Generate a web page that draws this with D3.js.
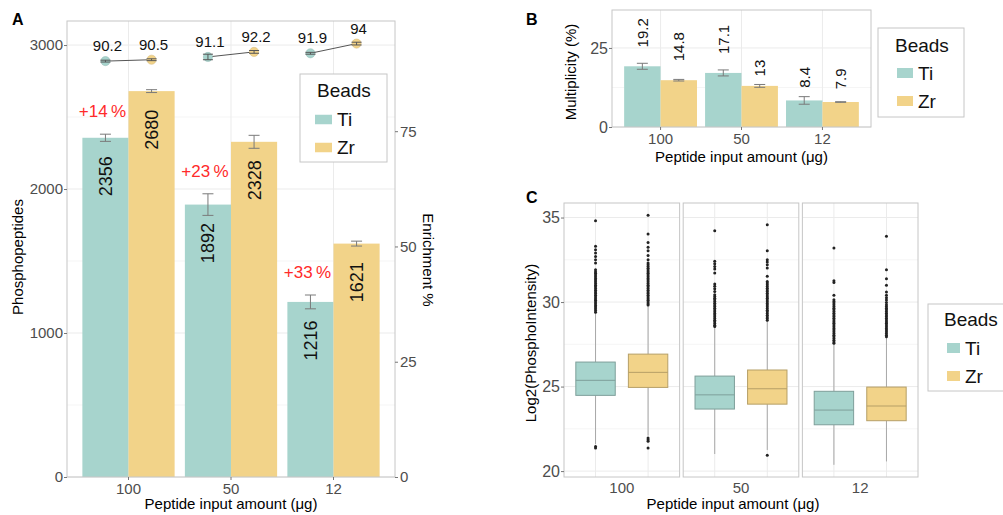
<!DOCTYPE html>
<html>
<head>
<meta charset="utf-8">
<script src="https://cdn.jsdelivr.net/npm/d3@7"></script>
<style>
  body { margin: 0; background: #fff; }
  svg { font-family: "Liberation Sans", Arial, sans-serif; }
</style>
</head>
<body>
<svg id="fig" width="1003" height="515"></svg>
<script>
// ---- data ----
var amounts = ["100", "50", "12"];
var beads = ["Ti", "Zr"];
var beadColors = ["#a7d4cd", "#f2d389"];

// A: phosphopeptides (bars) and enrichment % (points)
var phosphoTi = [2356, 1892, 1216];
var phosphoZr = [2680, 2328, 1621];
var phosphoTiSd = [25, 75, 48];
var phosphoZrSd = [10, 45, 17];
var enrichTi = [90.2, 91.1, 91.9];
var enrichZr = [90.5, 92.2, 94];
var enrichTiSd = [0.2, 0.6, 0.2];
var enrichZrSd = [0.2, 0.3, 0.3];
var gainLabels = ["+14\u2009%", "+23\u2009%", "+33\u2009%"];
var phosphoTicks = [0, 1000, 2000, 3000];
var enrichTicks = [0, 25, 50, 75];

// B: multiplicity
var multTi = [19.2, 17.1, 8.4];
var multZr = [14.8, 13, 7.9];
var multTiSd = [0.95, 0.95, 1.2];
var multZrSd = [0.25, 0.45, 0.1];
var multTicks = [0, 25];

// C: log2 phospho intensity boxplots
var boxTiQ1 = [24.48, 23.67, 22.74];
var boxTiMed = [25.37, 24.51, 23.61];
var boxTiQ3 = [26.45, 25.62, 24.72];
var boxTiLo = [21.6, 21.01, 20.37];
var boxTiHi = [29.35, 28.5, 27.52];
var boxZrQ1 = [24.95, 23.96, 22.98];
var boxZrMed = [25.84, 24.87, 23.85];
var boxZrQ3 = [26.92, 25.98, 24.97];
var boxZrLo = [22.1, 21.25, 20.57];
var boxZrHi = [29.78, 28.88, 27.9];
var outTi100 = [34.81, 33.30, 33.10, 32.90, 32.70, 32.50, 32.31, 31.91, 31.80, 31.70, 31.60, 31.50, 31.40, 31.30, 31.20, 31.10, 31.00, 30.90, 30.80, 30.70, 30.60, 30.50, 30.40, 30.30, 30.20, 30.10, 30.00, 29.90, 29.80, 29.70, 29.60, 29.50, 29.40, 21.46, 21.36];
var outZr100 = [35.13, 34.02, 33.53, 33.24, 33.04, 32.76, 32.50, 32.31, 32.20, 32.10, 32.00, 31.90, 31.80, 31.70, 31.60, 31.50, 31.40, 31.30, 31.20, 31.10, 31.00, 30.90, 30.80, 30.70, 30.60, 30.50, 30.40, 30.30, 30.20, 30.10, 30.00, 29.90, 29.82, 21.95, 21.85, 21.76, 21.36];
var outTi50 = [34.22, 32.41, 32.27, 32.11, 31.95, 31.72, 31.07, 30.93, 30.79, 30.63, 30.43, 30.33, 30.23, 30.13, 30.03, 29.93, 29.83, 29.73, 29.63, 29.53, 29.43, 29.33, 29.23, 29.13, 29.03, 28.93, 28.83, 28.73, 28.63, 28.56];
var outZr50 = [34.57, 33.04, 32.50, 32.37, 32.21, 32.01, 31.52, 31.22, 31.12, 31.02, 30.92, 30.82, 30.72, 30.62, 30.52, 30.42, 30.32, 30.22, 30.12, 30.02, 29.92, 29.82, 29.72, 29.62, 29.52, 29.42, 29.32, 29.22, 29.12, 29.02, 28.92, 20.93];
var outTi12 = [33.20, 31.26, 31.16, 30.40, 30.14, 30.04, 29.94, 29.84, 29.74, 29.64, 29.54, 29.44, 29.34, 29.24, 29.14, 29.04, 28.94, 28.84, 28.74, 28.64, 28.54, 28.44, 28.34, 28.24, 28.14, 28.04, 27.94, 27.84, 27.74, 27.64, 27.57];
var outZr12 = [33.89, 31.91, 31.38, 30.99, 30.59, 30.40, 30.25, 30.12, 29.98, 29.84, 29.74, 29.64, 29.54, 29.44, 29.34, 29.24, 29.14, 29.04, 28.94, 28.84, 28.74, 28.64, 28.54, 28.44, 28.34, 28.24, 28.14, 28.04, 27.95];
var intensityTicks = [20, 25, 30, 35];

var svg = d3.select("#fig");
svg.append("rect").attr("width", 1003).attr("height", 515).attr("fill", "#fff");

var color = d3.scaleOrdinal().domain(beads).range(beadColors);
var gridMajor = "#ebebeb", gridMinor = "#f5f5f5", borderCol = "#c6c6c6";

function styleAxis(g, size) {
  g.attr("font-family", null).attr("font-size", null);
  g.select(".domain").remove();
  g.selectAll(".tick line").attr("stroke", "#777");
  g.selectAll(".tick text").attr("fill", "#4d4d4d").style("font-size", size + "px");
}

function rows(tiVals, zrVals, tiSd, zrSd) {
  var out = [];
  amounts.forEach(function (a, i) {
    out.push({ amt: a, bead: "Ti", v: tiVals[i], sd: tiSd[i] });
    out.push({ amt: a, bead: "Zr", v: zrVals[i], sd: zrSd[i] });
  });
  return out;
}

function legend(x, y, w, h, titleY, keys) {
  var g = svg.append("g");
  g.append("rect").attr("x", x).attr("y", y).attr("width", w).attr("height", h)
    .attr("fill", "#fff").attr("stroke", borderCol);
  g.append("text").attr("x", keys.tx).attr("y", titleY).text("Beads")
    .style("font-size", "19px").attr("fill", "#111");
  beads.forEach(function (b, i) {
    var ky = keys.ky[i];
    g.append("rect").attr("x", keys.kx).attr("y", ky - keys.kh / 2)
      .attr("width", keys.kw).attr("height", keys.kh).attr("fill", color(b));
    g.append("text").attr("x", keys.kx + keys.kw + 5).attr("y", ky).attr("dy", "0.36em")
      .text(b).style("font-size", "19px").attr("fill", "#111");
  });
}

function panelLabel(x, y, t) {
  svg.append("text").attr("x", x).attr("y", y).text(t)
    .style("font-size", "16px").style("font-weight", "bold").attr("fill", "#000");
}

// ================= Panel A =================
var A = { left: 67, right: 395, top: 21, bottom: 477 };
var xA = d3.scaleBand().domain(amounts).range([A.left, A.right]).paddingInner(0.1).paddingOuter(0.15);
var xAin = d3.scaleBand().domain(beads).range([0, xA.bandwidth()]);
var yA = d3.scaleLinear().domain([0, 3167]).range([A.bottom, A.top]);
var yE = d3.scaleLinear().domain([0, 98.9]).range([A.bottom, A.top]);
var gA = svg.append("g");

// grid
gA.selectAll(".gmin").data(yA.ticks(6).filter(function (t) { return t % 1000; }))
  .enter().append("line")
  .attr("x1", A.left).attr("x2", A.right)
  .attr("y1", function (d) { return yA(d); }).attr("y2", function (d) { return yA(d); })
  .attr("stroke", gridMinor);
gA.selectAll(".gmaj").data(phosphoTicks)
  .enter().append("line")
  .attr("x1", A.left).attr("x2", A.right)
  .attr("y1", function (d) { return yA(d); }).attr("y2", function (d) { return yA(d); })
  .attr("stroke", gridMajor);
gA.selectAll(".gx").data(amounts)
  .enter().append("line")
  .attr("x1", function (d) { return xA(d) + xA.bandwidth() / 2; })
  .attr("x2", function (d) { return xA(d) + xA.bandwidth() / 2; })
  .attr("y1", A.top).attr("y2", A.bottom).attr("stroke", gridMajor);

var barsA = rows(phosphoTi, phosphoZr, phosphoTiSd, phosphoZrSd);
function cxA(d) { return xA(d.amt) + xAin(d.bead) + xAin.bandwidth() / 2; }

gA.selectAll(".bar").data(barsA).enter().append("rect")
  .attr("x", function (d) { return xA(d.amt) + xAin(d.bead); })
  .attr("y", function (d) { return yA(d.v); })
  .attr("width", xAin.bandwidth())
  .attr("height", function (d) { return A.bottom - yA(d.v); })
  .attr("fill", function (d) { return color(d.bead); });

// bar error bars
var ebA = gA.selectAll(".eb").data(barsA).enter().append("g").attr("stroke", "#7a7a7a");
ebA.append("line")
  .attr("x1", cxA).attr("x2", cxA)
  .attr("y1", function (d) { return yA(d.v - d.sd); })
  .attr("y2", function (d) { return yA(d.v + d.sd); });
ebA.append("line")
  .attr("x1", function (d) { return cxA(d) - 5.5; }).attr("x2", function (d) { return cxA(d) + 5.5; })
  .attr("y1", function (d) { return yA(d.v - d.sd); }).attr("y2", function (d) { return yA(d.v - d.sd); });
ebA.append("line")
  .attr("x1", function (d) { return cxA(d) - 5.5; }).attr("x2", function (d) { return cxA(d) + 5.5; })
  .attr("y1", function (d) { return yA(d.v + d.sd); }).attr("y2", function (d) { return yA(d.v + d.sd); });

// value labels inside bars
gA.selectAll(".vl").data(barsA).enter().append("text")
  .attr("transform", function (d) { return "translate(" + cxA(d) + "," + (yA(d.v) + 18.5) + ") rotate(-90)"; })
  .attr("text-anchor", "end").attr("dy", "0.36em")
  .style("font-size", "18px").attr("fill", "#111")
  .text(function (d) { return d.v; });

// red gain labels
gA.selectAll(".gain").data(amounts).enter().append("text")
  .attr("x", function (d) { return xA(d) + xAin("Ti") + xAin.bandwidth() / 2 - 3; })
  .attr("y", function (d, i) { return yA(phosphoTi[i] + phosphoTiSd[i]) - 17; })
  .attr("text-anchor", "middle").style("font-size", "17px").attr("fill", "#ff2a2a")
  .text(function (d, i) { return gainLabels[i]; });

// enrichment points + connecting lines
var ptsE = rows(enrichTi, enrichZr, enrichTiSd, enrichZrSd);
gA.selectAll(".eline").data(amounts).enter().append("line")
  .attr("x1", function (d) { return xA(d) + xAin("Ti") + xAin.bandwidth() / 2; })
  .attr("x2", function (d) { return xA(d) + xAin("Zr") + xAin.bandwidth() / 2; })
  .attr("y1", function (d, i) { return yE(enrichTi[i]); })
  .attr("y2", function (d, i) { return yE(enrichZr[i]); })
  .attr("stroke", "#555").attr("stroke-width", 1);
gA.selectAll(".ept").data(ptsE).enter().append("circle")
  .attr("cx", cxA).attr("cy", function (d) { return yE(d.v); }).attr("r", 4.6)
  .attr("fill", function (d) { return color(d.bead); })
  .attr("stroke", function (d) { return d3.color(color(d.bead)).darker(0.4); }).attr("stroke-width", 0.5);
var ebE = gA.selectAll(".ebe").data(ptsE).enter().append("g").attr("stroke", "#555");
ebE.append("line").attr("x1", cxA).attr("x2", cxA)
  .attr("y1", function (d) { return yE(d.v - d.sd); }).attr("y2", function (d) { return yE(d.v + d.sd); });
ebE.append("line")
  .attr("x1", function (d) { return cxA(d) - 5; }).attr("x2", function (d) { return cxA(d) + 5; })
  .attr("y1", function (d) { return yE(d.v - d.sd); }).attr("y2", function (d) { return yE(d.v - d.sd); });
ebE.append("line")
  .attr("x1", function (d) { return cxA(d) - 5; }).attr("x2", function (d) { return cxA(d) + 5; })
  .attr("y1", function (d) { return yE(d.v + d.sd); }).attr("y2", function (d) { return yE(d.v + d.sd); });
gA.selectAll(".elab").data(ptsE).enter().append("text")
  .attr("x", function (d) { return cxA(d) + 2; })
  .attr("y", function (d) { return yE(d.v) - 10; })
  .attr("text-anchor", "middle").style("font-size", "15px").attr("fill", "#111")
  .text(function (d) { return d.v; });

// border + axes
gA.append("rect").attr("x", A.left).attr("y", A.top).attr("width", A.right - A.left)
  .attr("height", A.bottom - A.top).attr("fill", "none").attr("stroke", borderCol);
gA.append("g").attr("transform", "translate(" + A.left + ",0)")
  .call(d3.axisLeft(yA).tickValues(phosphoTicks).tickFormat(d3.format("d")).tickSize(3).tickPadding(1))
  .call(styleAxis, 15);
gA.append("g").attr("transform", "translate(" + A.right + ",0)")
  .call(d3.axisRight(yE).tickValues(enrichTicks).tickFormat(d3.format("d")).tickSize(3).tickPadding(2))
  .call(styleAxis, 15);
gA.append("g").attr("transform", "translate(0," + A.bottom + ")")
  .call(d3.axisBottom(xA).tickSize(3).tickPadding(3))
  .call(styleAxis, 15);

gA.append("text").attr("transform", "translate(23,257) rotate(-90)")
  .attr("text-anchor", "middle").style("font-size", "15px").text("Phosphopeptides");
gA.append("text").attr("transform", "translate(423,260) rotate(90)")
  .attr("text-anchor", "middle").style("font-size", "15px").text("Enrichment %");
gA.append("text").attr("x", (A.left + A.right) / 2).attr("y", 509)
  .attr("text-anchor", "middle").style("font-size", "15px").text("Peptide input amount (\u03bcg)");

legend(300, 74, 87, 88, 97, { tx: 317, kx: 315, kw: 17, kh: 9.5, ky: [119.5, 147.5] });
panelLabel(12, 25, "A");

// ================= Panel B =================
var B = { left: 612, right: 871, top: 10, bottom: 127 };
var xB = d3.scaleBand().domain(amounts).range([B.left, B.right]).paddingInner(0.1).paddingOuter(0.15);
var xBin = d3.scaleBand().domain(beads).range([0, xB.bandwidth()]);
var yB = d3.scaleLinear().domain([0, 37]).range([B.bottom, B.top]);
var gB = svg.append("g");

gB.selectAll(".gmin").data([12.5]).enter().append("line")
  .attr("x1", B.left).attr("x2", B.right)
  .attr("y1", function (d) { return yB(d); }).attr("y2", function (d) { return yB(d); })
  .attr("stroke", gridMinor);
gB.selectAll(".gmaj").data(multTicks).enter().append("line")
  .attr("x1", B.left).attr("x2", B.right)
  .attr("y1", function (d) { return yB(d); }).attr("y2", function (d) { return yB(d); })
  .attr("stroke", gridMajor);
gB.selectAll(".gx").data(amounts).enter().append("line")
  .attr("x1", function (d) { return xB(d) + xB.bandwidth() / 2; })
  .attr("x2", function (d) { return xB(d) + xB.bandwidth() / 2; })
  .attr("y1", B.top).attr("y2", B.bottom).attr("stroke", gridMajor);

var barsB = rows(multTi, multZr, multTiSd, multZrSd);
function cxB(d) { return xB(d.amt) + xBin(d.bead) + xBin.bandwidth() / 2; }
gB.selectAll(".bar").data(barsB).enter().append("rect")
  .attr("x", function (d) { return xB(d.amt) + xBin(d.bead); })
  .attr("y", function (d) { return yB(d.v); })
  .attr("width", xBin.bandwidth())
  .attr("height", function (d) { return B.bottom - yB(d.v); })
  .attr("fill", function (d) { return color(d.bead); });
var ebB = gB.selectAll(".eb").data(barsB).enter().append("g").attr("stroke", "#7a7a7a");
ebB.append("line").attr("x1", cxB).attr("x2", cxB)
  .attr("y1", function (d) { return yB(d.v - d.sd); }).attr("y2", function (d) { return yB(d.v + d.sd); });
ebB.append("line")
  .attr("x1", function (d) { return cxB(d) - 5.5; }).attr("x2", function (d) { return cxB(d) + 5.5; })
  .attr("y1", function (d) { return yB(d.v - d.sd); }).attr("y2", function (d) { return yB(d.v - d.sd); });
ebB.append("line")
  .attr("x1", function (d) { return cxB(d) - 5.5; }).attr("x2", function (d) { return cxB(d) + 5.5; })
  .attr("y1", function (d) { return yB(d.v + d.sd); }).attr("y2", function (d) { return yB(d.v + d.sd); });

var labB = gB.selectAll(".vl").data(barsB).enter().append("text")
  .attr("text-anchor", "start").attr("dy", "0.36em")
  .style("font-size", "15px").attr("fill", "#111")
  .text(function (d) { return d.v; });
labB.attr("transform", function (d) {
  var len = this.getComputedTextLength();
  return "translate(" + cxB(d) + "," + (yB(d.v) - (0.75 * len - 3)) + ") rotate(-90)";
});

gB.append("rect").attr("x", B.left).attr("y", B.top).attr("width", B.right - B.left)
  .attr("height", B.bottom - B.top).attr("fill", "none").attr("stroke", borderCol);
gB.append("g").attr("transform", "translate(" + B.left + ",0)")
  .call(d3.axisLeft(yB).tickValues(multTicks).tickSize(3).tickPadding(1))
  .call(styleAxis, 16);
gB.append("g").attr("transform", "translate(0," + B.bottom + ")")
  .call(d3.axisBottom(xB).tickSize(3).tickPadding(3))
  .call(styleAxis, 15);
gB.append("text").attr("transform", "translate(576,72) rotate(-90)")
  .attr("text-anchor", "middle").style("font-size", "15px").text("Multiplicity (%)");
gB.append("text").attr("x", (B.left + B.right) / 2).attr("y", 162)
  .attr("text-anchor", "middle").style("font-size", "15px").text("Peptide input amount (\u03bcg)");

legend(878, 28, 86, 89, 52, { tx: 895, kx: 897, kw: 16, kh: 10, ky: [73, 101] });
panelLabel(526, 25, "B");

// ================= Panel C =================
var C = { left: 564, right: 918, top: 203, bottom: 477 };
var fx = d3.scaleBand().domain(amounts).range([C.left, C.right]).paddingInner(0.03);
var xCin = d3.scalePoint().domain(beads).range([0, fx.bandwidth()]).padding(0.6);
var yC = d3.scaleLinear().domain([19.65, 35.86]).range([C.bottom, C.top]);
var boxW = 0.75 * xCin.step();
var gC = svg.append("g");

var boxes = [];
var outTi = [outTi100, outTi50, outTi12];
var outZr = [outZr100, outZr50, outZr12];
amounts.forEach(function (a, i) {
  boxes.push({ amt: a, bead: "Ti", q1: boxTiQ1[i], med: boxTiMed[i], q3: boxTiQ3[i], lo: boxTiLo[i], hi: boxTiHi[i], out: outTi[i] });
  boxes.push({ amt: a, bead: "Zr", q1: boxZrQ1[i], med: boxZrMed[i], q3: boxZrQ3[i], lo: boxZrLo[i], hi: boxZrHi[i], out: outZr[i] });
});
function cxC(d) { return fx(d.amt) + xCin(d.bead); }

var facets = gC.selectAll(".facet").data(amounts).enter().append("g");
facets.each(function (a) {
  var f = d3.select(this);
  var x0 = fx(a), x1 = fx(a) + fx.bandwidth();
  f.selectAll(".gmin").data([22.5, 27.5, 32.5]).enter().append("line")
    .attr("x1", x0).attr("x2", x1)
    .attr("y1", function (d) { return yC(d); }).attr("y2", function (d) { return yC(d); })
    .attr("stroke", gridMinor);
  f.selectAll(".gmaj").data(intensityTicks).enter().append("line")
    .attr("x1", x0).attr("x2", x1)
    .attr("y1", function (d) { return yC(d); }).attr("y2", function (d) { return yC(d); })
    .attr("stroke", gridMajor);
  f.selectAll(".gx").data(beads).enter().append("line")
    .attr("x1", function (b) { return x0 + xCin(b); }).attr("x2", function (b) { return x0 + xCin(b); })
    .attr("y1", C.top).attr("y2", C.bottom).attr("stroke", gridMajor);
});

var bx = gC.selectAll(".box").data(boxes).enter().append("g");
bx.append("line").attr("x1", cxC).attr("x2", cxC)
  .attr("y1", function (d) { return yC(d.lo); }).attr("y2", function (d) { return yC(d.q1); })
  .attr("stroke", "#a8a8a8");
bx.append("line").attr("x1", cxC).attr("x2", cxC)
  .attr("y1", function (d) { return yC(d.q3); }).attr("y2", function (d) { return yC(d.hi); })
  .attr("stroke", "#a8a8a8");
bx.append("rect")
  .attr("x", function (d) { return cxC(d) - boxW / 2; })
  .attr("y", function (d) { return yC(d.q3); })
  .attr("width", boxW)
  .attr("height", function (d) { return yC(d.q1) - yC(d.q3); })
  .attr("fill", function (d) { return color(d.bead); })
  .attr("stroke", function (d) { return d3.color(color(d.bead)).darker(0.8); });
bx.append("line")
  .attr("x1", function (d) { return cxC(d) - boxW / 2; }).attr("x2", function (d) { return cxC(d) + boxW / 2; })
  .attr("y1", function (d) { return yC(d.med); }).attr("y2", function (d) { return yC(d.med); })
  .attr("stroke", function (d) { return d3.color(color(d.bead)).darker(0.8); });
bx.each(function (d) {
  d3.select(this).selectAll(".o").data(d.out).enter().append("circle")
    .attr("cx", cxC(d)).attr("cy", function (v) { return yC(v); })
    .attr("r", 1.5).attr("fill", "#222");
});

facets.append("rect")
  .attr("x", function (a) { return fx(a); }).attr("y", C.top)
  .attr("width", fx.bandwidth()).attr("height", C.bottom - C.top)
  .attr("fill", "none").attr("stroke", borderCol);

gC.append("g").attr("transform", "translate(" + C.left + ",0)")
  .call(d3.axisLeft(yC).tickValues(intensityTicks).tickSize(3).tickPadding(1))
  .call(styleAxis, 16);
gC.append("g").attr("transform", "translate(0," + C.bottom + ")")
  .call(d3.axisBottom(fx).tickSize(0).tickPadding(5))
  .call(styleAxis, 15);
gC.append("text").attr("transform", "translate(536,343) rotate(-90)")
  .attr("text-anchor", "middle").style("font-size", "15px").text("Log2(PhosphoIntensity)");
gC.append("text").attr("x", 733).attr("y", 509)
  .attr("text-anchor", "middle").style("font-size", "15px").text("Peptide input amount (\u03bcg)");

legend(928, 304, 90, 87, 326, { tx: 944, kx: 947, kw: 13, kh: 10, ky: [348, 376] });
panelLabel(526, 203, "C");
</script>
</body>
</html>
